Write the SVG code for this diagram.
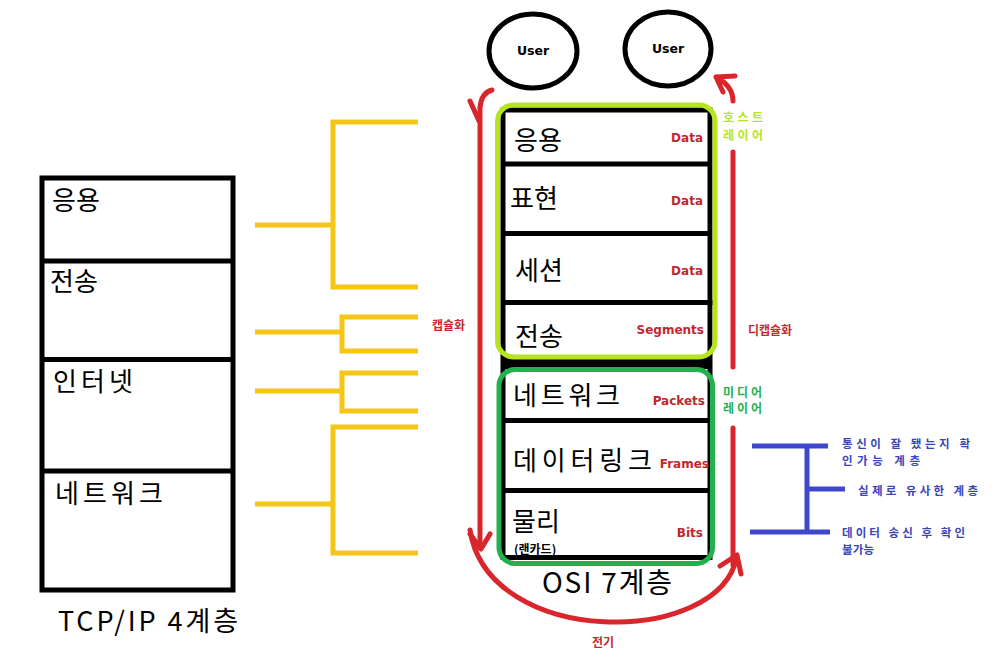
<svg xmlns="http://www.w3.org/2000/svg" width="996" height="667" viewBox="0 0 996 667">
<style>
.blk{fill:none;stroke:#000;stroke-width:5}
.ko{font-family:"Noto Sans CJK KR","Noto Sans",sans-serif;fill:#000}
.big{font-size:26px}
.lat{font-family:"DejaVu Sans","Liberation Sans",sans-serif;font-weight:bold}
.pdu{font-size:12px;fill:#c0282e;text-anchor:end}
.sm{font-family:"Noto Sans CJK KR",sans-serif;font-size:12px;font-weight:bold}
.red{fill:#c8282e}
.yl{fill:none;stroke:#f5c518;stroke-width:5}
.rl{fill:none;stroke:#d9262c;stroke-width:5;stroke-linecap:round;stroke-linejoin:round}
.bl{fill:none;stroke:#3f48cc;stroke-width:5}
.bt{fill:#3a45b8;font-size:11.5px}
</style>
<rect width="996" height="667" fill="#fff"/>

<g id="tcpip">
<rect class="blk" x="42" y="178" width="191" height="412"/>
<line class="blk" x1="42" y1="261" x2="233" y2="261"/>
<line class="blk" x1="42" y1="359.5" x2="233" y2="359.5"/>
<line class="blk" x1="42" y1="471" x2="233" y2="471"/>
<text class="ko big" x="52" y="210">응용</text>
<text class="ko big" x="50" y="291">전송</text>
<text class="ko big" x="53" y="391" textLength="80">인터넷</text>
<text class="ko big" x="55" y="503" textLength="108">네트워크</text>
<text class="ko" x="58" y="631" font-size="27" textLength="180">TCP/IP 4계층</text>
</g>

<g id="user1">
<ellipse class="blk" cx="533" cy="51" rx="44" ry="37" stroke-width="4"/>
<text class="lat" x="533" y="55" font-size="12.5" text-anchor="middle">User</text>
</g>
<g id="user2">
<ellipse class="blk" cx="668" cy="49" rx="43" ry="37" stroke-width="4"/>
<text class="lat" x="668" y="53" font-size="12.5" text-anchor="middle">User</text>
</g>

<g id="osi">
<rect class="blk" x="503" y="110" width="207" height="447.5"/>
<line class="blk" x1="503" y1="164" x2="710" y2="164"/>
<line class="blk" x1="503" y1="233.5" x2="710" y2="233.5"/>
<line class="blk" x1="503" y1="302.5" x2="713" y2="302.5"/>
<rect x="503" y="357" width="207" height="12" fill="#000"/>
<line class="blk" x1="503" y1="420.5" x2="710" y2="420.5"/>
<line class="blk" x1="503" y1="490.5" x2="710" y2="490.5"/>
<rect x="497.5" y="105" width="217.5" height="252" rx="16" fill="none" stroke="#b5e61d" stroke-width="5"/>
<rect x="499" y="369.5" width="213.5" height="194" rx="16" fill="none" stroke="#22b14c" stroke-width="5"/>
<text class="ko big" x="514" y="150">응용</text>
<text class="ko big" x="510" y="208">표현</text>
<text class="ko big" x="515" y="280">세션</text>
<text class="ko big" x="515" y="346">전송</text>
<text class="ko big" x="513" y="405" textLength="107">네트워크</text>
<text class="ko big" x="513" y="470" textLength="139">데이터링크</text>
<text class="ko big" x="512" y="531">물리</text>
<text class="ko" x="514" y="554" font-size="12" font-weight="bold">(랜카드)</text>
<text class="lat pdu" x="703" y="142">Data</text>
<text class="lat pdu" x="703" y="205">Data</text>
<text class="lat pdu" x="703" y="275">Data</text>
<text class="lat pdu" x="704" y="334">Segments</text>
<text class="lat pdu" x="705" y="405">Packets</text>
<text class="lat pdu" x="709" y="468">Frames</text>
<text class="lat pdu" x="703" y="537">Bits</text>
<text class="ko" x="542" y="593" font-size="28" textLength="130">OSI 7계층</text>
</g>

<g id="connectors">
<g id="yellow-brackets">
<path class="yl" d="M255 225H333M418 122H333V287H418"/>
<path class="yl" d="M255 332H342M418 317H342V351H418"/>
<path class="yl" d="M255 391H342M418 373H342V411H418"/>
<path class="yl" d="M255 504H333M418 427H333V553H418"/>
</g>
<g id="red-arrows">
<path class="rl" d="M480 548V108Q481 93 492 90M470 101L479 121"/>
<path class="rl" d="M470 534L481 549L490 534"/>
<path class="rl" d="M470 530C488 648 720 648 737 556M720 566L737 555L741 574"/>
<path class="rl" d="M733 565V428M733 367V152M733 101Q733 86 716 77M716 77L735 76M716 77L723 92"/>
</g>
<g id="blue-bracket">
<path class="bl" d="M752 446H828M807 446V532M807 489H845M750 532H830"/>
</g>
</g>

<g id="labels">
<text class="sm red" x="432" y="330" font-size="13">캡슐화</text>
<text class="sm red" x="748" y="335" font-size="12.5">디캡슐화</text>
<text class="sm red" x="592" y="647" font-size="14">전기</text>
<text class="sm" x="723" y="122" fill="#b5e61d" textLength="40" font-weight="normal">호스트</text>
<text class="sm" x="723" y="140" fill="#b5e61d" textLength="40" font-weight="normal">레이어</text>
<text class="sm" x="723" y="397" fill="#22b14c" textLength="39" font-weight="normal">미디어</text>
<text class="sm" x="723" y="413" fill="#22b14c" textLength="39" font-weight="normal">레이어</text>
<text class="sm bt" x="842" y="448" textLength="128">통신이 잘 됐는지 확</text>
<text class="sm bt" x="842" y="465" textLength="78">인가능 계층</text>
<text class="sm bt" x="858" y="495" textLength="120">실제로 유사한 계층</text>
<text class="sm bt" x="842" y="537" textLength="123">데이터 송신 후 확인</text>
<text class="sm bt" x="842" y="554" textLength="32">불가능</text>
</g>
</svg>
